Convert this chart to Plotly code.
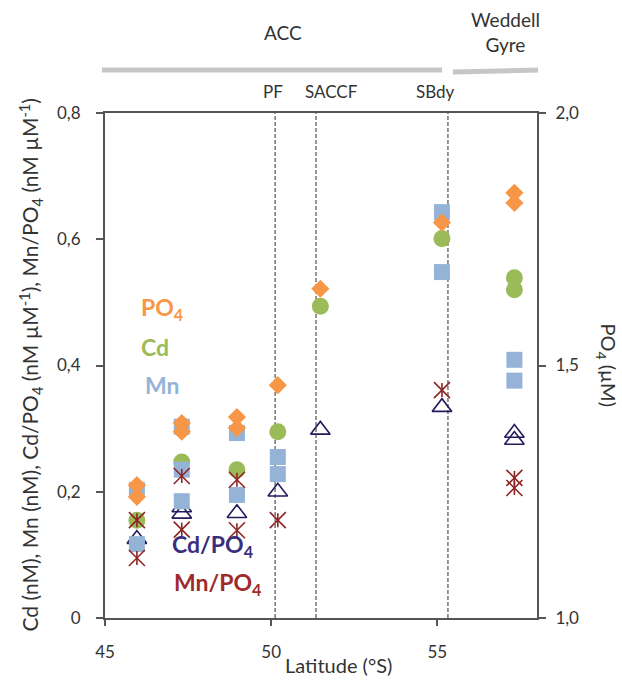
import plotly.graph_objects as go

# ---------------- data ----------------
lat_po4 = [45.96, 45.96, 47.31, 47.31, 48.97, 48.97, 50.2, 51.48, 55.14, 57.32, 57.32]
po4 = [1.263, 1.240, 1.386, 1.369, 1.398, 1.376, 1.461, 1.652, 1.783, 1.842, 1.822]

lat_cd = [45.96, 47.31, 48.97, 50.2, 51.48, 55.14, 57.32, 57.32]
cd = [0.155, 0.247, 0.235, 0.295, 0.494, 0.601, 0.539, 0.520]

lat_mn = [45.96, 45.96, 47.31, 47.31, 47.31, 48.97, 48.97, 50.2, 50.2, 55.14, 55.14, 57.32, 57.32]
mn = [0.203, 0.117, 0.303, 0.235, 0.185, 0.293, 0.195, 0.255, 0.228, 0.643, 0.548, 0.409, 0.376]

lat_cdpo4 = [45.96, 47.31, 47.31, 48.97, 50.2, 51.48, 55.14, 57.32, 57.32]
cd_po4 = [0.125, 0.175, 0.165, 0.166, 0.200, 0.298, 0.334, 0.293, 0.282]

lat_mnpo4 = [45.96, 45.96, 47.31, 47.31, 48.97, 48.97, 50.2, 55.14, 57.32, 57.32]
mn_po4 = [0.155, 0.095, 0.225, 0.140, 0.219, 0.139, 0.155, 0.361, 0.222, 0.206]

front_names = ["PF", "SACCF", "SBdy"]
front_lat = [50.12, 51.35, 55.32]

x_ticks = [45, 50, 55]
x_ticktext = ["45", "50", "55"]
y_ticks = [0, 0.2, 0.4, 0.6, 0.8]
y_ticktext = ["0", "0,2", "0,4", "0,6", "0,8"]
y2_ticks = [1.0, 1.5, 2.0]
y2_ticktext = ["1,0", "1,5", "2,0"]

# ---------------- styling ----------------
C_PO4 = "#F79646"
C_CD = "#9BBB59"
C_MN = "#95B3D7"
C_CDPO4 = "#231C5C"
C_MNPO4 = "#8E2424"
AX = "#555555"
TXT = "#333333"
FONT = "Lato"

fig = go.Figure()

fig.add_trace(go.Scatter(x=lat_cdpo4, y=cd_po4, mode="markers", name="Cd/PO4",
                         marker=dict(symbol="triangle-up-open", size=17, color=C_CDPO4,
                                     line=dict(width=1.6, color=C_CDPO4))))
fig.add_trace(go.Scatter(x=lat_cd, y=cd, mode="markers", name="Cd",
                         marker=dict(symbol="circle", size=17, color=C_CD)))
fig.add_trace(go.Scatter(x=lat_mn, y=mn, mode="markers", name="Mn",
                         marker=dict(symbol="square", size=16, color=C_MN)))
fig.add_trace(go.Scatter(x=lat_mnpo4, y=mn_po4, mode="markers", name="Mn/PO4",
                         marker=dict(symbol="x-thin-open", size=16, color=C_MNPO4,
                                     line=dict(width=1.6, color=C_MNPO4))))
fig.add_trace(go.Scatter(x=lat_mnpo4, y=mn_po4, mode="markers", name="Mn/PO4 bar",
                         marker=dict(symbol="line-ns-open", size=10, color=C_MNPO4,
                                     line=dict(width=1.6, color=C_MNPO4))))
fig.add_trace(go.Scatter(x=lat_po4, y=po4, mode="markers", name="PO4", yaxis="y2",
                         marker=dict(symbol="diamond", size=14, color=C_PO4)))

# ---------------- layout ----------------
L, R, T, B = 105, 85, 113, 62
W, H = 622, 680
pw, ph = W - L - R, H - T - B


def px(xp):
    return (xp - L) / pw


def py(yp):
    return (H - B - yp) / ph


shapes = []
for fl in front_lat:
    shapes.append(dict(type="line", xref="x", yref="paper", x0=fl, x1=fl, y0=0, y1=1,
                       line=dict(color="#6a6a6a", width=1.4, dash="4px,2px"), layer="below"))
shapes.append(dict(type="line", xref="paper", yref="paper", x0=px(102), x1=px(442),
                   y0=py(70), y1=py(70), line=dict(color="#C6C6C6", width=5)))
shapes.append(dict(type="line", xref="paper", yref="paper", x0=px(453), x1=px(538),
                   y0=py(72), y1=py(70), line=dict(color="#C6C6C6", width=5)))

ann = []


def add_text(text, x, y, size, color=TXT, xanchor="center", yanchor="middle",
             angle=0, bold=False):
    ann.append(dict(text=("<b>%s</b>" % text) if bold else text, xref="paper", yref="paper",
                    x=x, y=y, xanchor=xanchor, yanchor=yanchor, showarrow=False,
                    textangle=angle, font=dict(family=FONT, size=size, color=color)))


add_text("ACC", px(283), py(32), 19)
add_text("Weddell<br>Gyre", px(505), py(32), 19)
front_label_x = [273, 331, 435]
for name, xx in zip(front_names, front_label_x):
    add_text(name, px(xx), py(92), 17)

add_text("PO<sub>4</sub>", px(139), py(308), 23, C_PO4, xanchor="left", bold=True)
add_text("Cd", px(139), py(347), 23, C_CD, xanchor="left", bold=True)
add_text("Mn", px(143), py(385), 23, C_MN, xanchor="left", bold=True)
add_text("Cd/PO<sub>4</sub>", px(170), py(545), 23, "#3B2E7E", xanchor="left", bold=True)
add_text("Mn/PO<sub>4</sub>", px(172), py(583), 23, "#A02A2A", xanchor="left", bold=True)

add_text("Cd (nM), Mn (nM), Cd/PO<sub>4</sub> (nM µM<sup>-1</sup>), Mn/PO<sub>4</sub> (nM µM<sup>-1</sup>)",
         px(30), 0.5, 21, angle=-90)
add_text("PO<sub>4</sub> (µM)", px(607), 0.5, 20, angle=90)
add_text("Latitude (°S)", px(338), py(665), 20)

fig.update_layout(
    width=W, height=H,
    margin=dict(l=L, r=R, t=T, b=B),
    plot_bgcolor="white", paper_bgcolor="white",
    showlegend=False,
    font=dict(family=FONT, size=17, color=TXT),
    xaxis=dict(range=[45, 58], tickvals=x_ticks, ticktext=x_ticktext,
               showline=True, linecolor=AX, linewidth=2, mirror=True,
               ticks="outside", ticklen=6, tickcolor=AX, tickwidth=1.5,
               showgrid=False, zeroline=False, ticklabelstandoff=12,
               tickfont=dict(family=FONT, size=17, color=TXT)),
    yaxis=dict(range=[0, 0.8], tickvals=y_ticks, ticktext=y_ticktext,
               showline=True, linecolor=AX, linewidth=2,
               ticks="outside", ticklen=7, tickcolor=AX, tickwidth=1.5,
               showgrid=False, zeroline=False, ticklabelstandoff=12,
               tickfont=dict(family=FONT, size=17, color=TXT)),
    yaxis2=dict(range=[1, 2], tickvals=y2_ticks, ticktext=y2_ticktext,
                overlaying="y", side="right",
                showline=True, linecolor=AX, linewidth=2,
                ticks="outside", ticklen=7, tickcolor=AX, tickwidth=1.5,
                showgrid=False, zeroline=False, ticklabelstandoff=6,
                tickfont=dict(family=FONT, size=17, color=TXT)),
    shapes=shapes,
    annotations=ann,
)

fig.write_html("out.html", config={"displayModeBar": False},
               post_script="document.body.style.margin='0';")
